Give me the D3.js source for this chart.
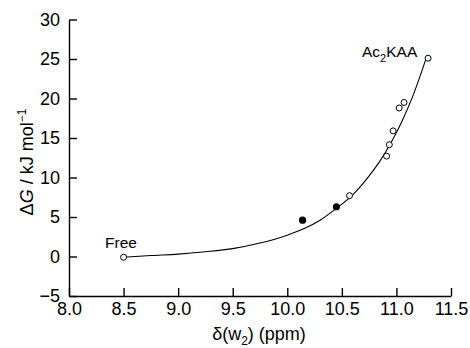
<!DOCTYPE html>
<html>
<head>
<meta charset="utf-8">
<script src="https://cdn.jsdelivr.net/npm/d3@7"></script>
<style>
  body { margin: 0; background: #fff; }
  svg { font-family: "Liberation Sans", Arial, sans-serif; }
</style>
</head>
<body>
<svg id="chart" width="470" height="348"></svg>
<script>
// measured points: delta(w2) in ppm, dG in kJ/mol
const openX = [8.5, 10.57, 10.91, 10.935, 10.97, 11.025, 11.07, 11.29];
const openY = [-0.1, 7.7, 12.7, 14.15, 15.9, 18.8, 19.5, 25.1];
const filledX = [10.14, 10.45];
const filledY = [4.6, 6.3];

// fitted curve
const curveX = [8.5, 8.75, 9.0, 9.25, 9.5, 9.75, 10.0, 10.15, 10.3, 10.45, 10.6, 10.75, 10.85, 10.95, 11.05, 11.15, 11.28];
const curveY = [-0.1, 0.12, 0.3, 0.6, 1.0, 1.7, 2.7, 3.5, 4.6, 6.1, 7.8, 10.2, 12.1, 14.4, 17.1, 20.3, 25.4];

const xTicks = [8.0, 8.5, 9.0, 9.5, 10.0, 10.5, 11.0, 11.5];
const yTicks = [-5, 0, 5, 10, 15, 20, 25, 30];

const plotLeft = 69, plotRight = 451, plotTop = 19.5, plotBottom = 296;

const svg = d3.select('#chart');

const x = d3.scaleLinear().domain([8.0, 11.5]).range([plotLeft, plotRight]);
const y = d3.scaleLinear().domain([-5, 30]).range([plotBottom, plotTop]);

const xAxis = svg.append('g')
  .attr('transform', 'translate(0,' + plotBottom + ')')
  .call(d3.axisBottom(x).tickValues(xTicks).tickFormat(d3.format('.1f'))
    .tickSizeInner(-8).tickSizeOuter(0).tickPadding(6));

const yAxis = svg.append('g')
  .attr('transform', 'translate(' + plotLeft + ',0)')
  .call(d3.axisLeft(y).tickValues(yTicks).tickFormat(d => d < 0 ? '\u2212' + Math.abs(d) : d)
    .tickSizeInner(-8).tickSizeOuter(0).tickPadding(9));

[xAxis, yAxis].forEach(a => {
  a.selectAll('path, line').attr('stroke', '#000').attr('stroke-width', 1.4);
  a.selectAll('text').style('font-size', '18px').attr('fill', '#000');
});

// curve
const line = d3.line()
  .x(i => x(curveX[i]))
  .y(i => y(curveY[i]))
  .curve(d3.curveMonotoneX);

svg.append('path')
  .attr('d', line(d3.range(curveX.length)))
  .attr('fill', 'none')
  .attr('stroke', '#000')
  .attr('stroke-width', 1.1);

svg.selectAll('circle.open')
  .data(d3.range(openX.length))
  .enter()
  .append('circle')
  .attr('class', 'open')
  .attr('cx', i => x(openX[i]))
  .attr('cy', i => y(openY[i]))
  .attr('r', 3)
  .attr('fill', '#fff')
  .attr('stroke', '#000')
  .attr('stroke-width', 1);

svg.selectAll('circle.filled')
  .data(d3.range(filledX.length))
  .enter()
  .append('circle')
  .attr('class', 'filled')
  .attr('cx', i => x(filledX[i]))
  .attr('cy', i => y(filledY[i]))
  .attr('r', 3.6)
  .attr('fill', '#000');

// point labels
svg.append('text')
  .attr('x', 105)
  .attr('y', 248)
  .style('font-size', '15.5px')
  .text('Free');

const ac = svg.append('text')
  .attr('x', 362)
  .attr('y', 57)
  .style('font-size', '15.5px');
ac.append('tspan').text('Ac');
ac.append('tspan').attr('dy', 5).style('font-size', '11px').text('2');
ac.append('tspan').attr('dy', -5).text('KAA');

// axis titles
const xt = svg.append('text')
  .attr('x', 259)
  .attr('y', 340)
  .attr('text-anchor', 'middle')
  .style('font-size', '18px');
xt.append('tspan').text('\u03b4(w');
xt.append('tspan').attr('dy', 5).style('font-size', '12px').text('2');
xt.append('tspan').attr('dy', -5).text(') (ppm)');

const yt = svg.append('text')
  .attr('transform', 'translate(33,162) rotate(-90)')
  .attr('text-anchor', 'middle')
  .style('font-size', '18px');
yt.append('tspan').text('\u0394');
yt.append('tspan').style('font-style', 'italic').text('G');
yt.append('tspan').text(' / kJ mol');
yt.append('tspan').attr('dy', -7).style('font-size', '12px').text('\u22121');
</script>
</body>
</html>
